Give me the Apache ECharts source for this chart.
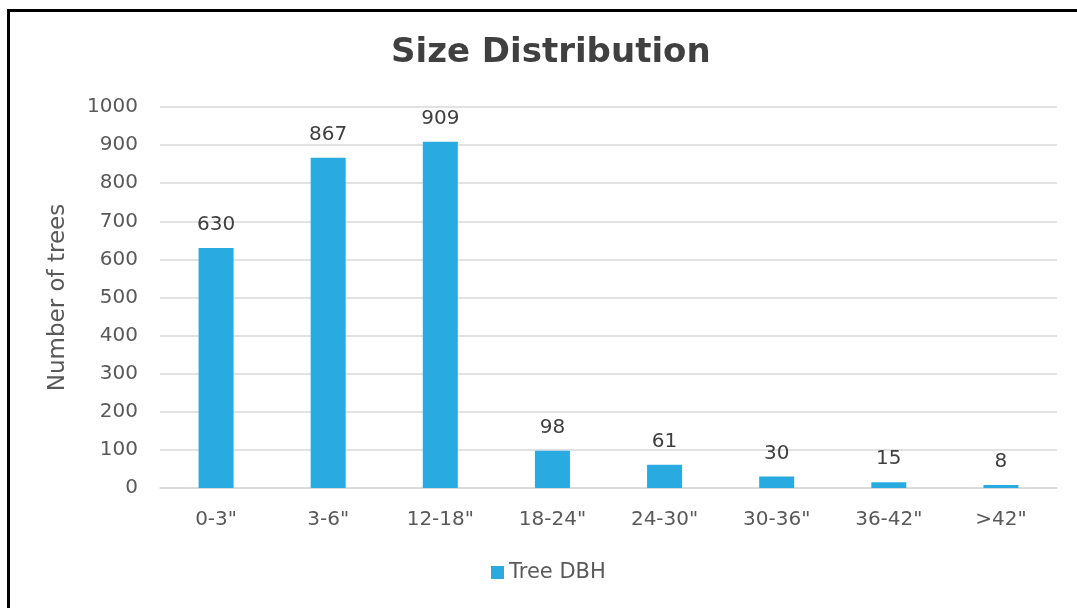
<!DOCTYPE html>
<html><head><meta charset="utf-8">
<script src="https://cdn.jsdelivr.net/npm/echarts@6/dist/echarts.min.js"></script>
<style>
html,body{margin:0;padding:0;background:#fff;}
#frame{position:absolute;left:7px;top:9px;width:1070px;height:599px;border-left:3px solid #000;border-top:3px solid #000;box-sizing:border-box;}
#c{position:absolute;left:0;top:0;width:1077px;height:608px;}
</style></head>
<body>
<div id="frame"></div>
<div id="c"></div>
<script>
const categories = ['0-3"', '3-6"', '12-18"', '18-24"', '24-30"', '30-36"', '36-42"', '>42"'];
const treeDBH = [630, 867, 909, 98, 61, 30, 15, 8];
const yTicks = {min: 0, max: 1000, interval: 100};
const FONT = '"DejaVu Sans", sans-serif';
const chart = echarts.init(document.getElementById('c'), null, {renderer: 'canvas'});
chart.setOption({
  backgroundColor: 'transparent',
  animation: false,
  title: {
    text: 'Size Distribution', left: 386, top: 31,
    textStyle: {fontFamily: FONT, fontSize: 34, fontWeight: 'bold', color: '#404040'}
  },
  legend: {
    bottom: 20, left: 486, itemWidth: 13, itemHeight: 13, icon: 'rect', itemGap: 6,
    textStyle: {fontFamily: FONT, fontSize: 21, color: '#595959'}
  },
  grid: {left: 160, right: 20, top: 107, bottom: 120, containLabel: false},
  xAxis: {
    type: 'category', data: categories,
    axisLine: {lineStyle: {color: '#d9d9d9', width: 1.5}},
    axisTick: {show: false},
    axisLabel: {fontFamily: FONT, fontSize: 20, color: '#595959', margin: 22}
  },
  yAxis: {
    type: 'value', min: yTicks.min, max: yTicks.max, interval: yTicks.interval,
    name: 'Number of trees', nameLocation: 'middle', nameGap: 90, nameRotate: 90,
    nameTextStyle: {fontFamily: FONT, fontSize: 23, color: '#595959'},
    axisLine: {show: false}, axisTick: {show: false},
    axisLabel: {fontFamily: FONT, fontSize: 20, color: '#595959', margin: 22, formatter: v => String(v)},
    splitLine: {lineStyle: {color: '#d9d9d9', width: 1.5}}
  },
  series: [{
    name: 'Tree DBH', type: 'bar', data: treeDBH, barWidth: 35,
    itemStyle: {color: '#29abe2'},
    label: {show: true, position: 'top', distance: 13, fontFamily: FONT, fontSize: 20, color: '#404040'}
  }]
});
</script>
</body></html>
